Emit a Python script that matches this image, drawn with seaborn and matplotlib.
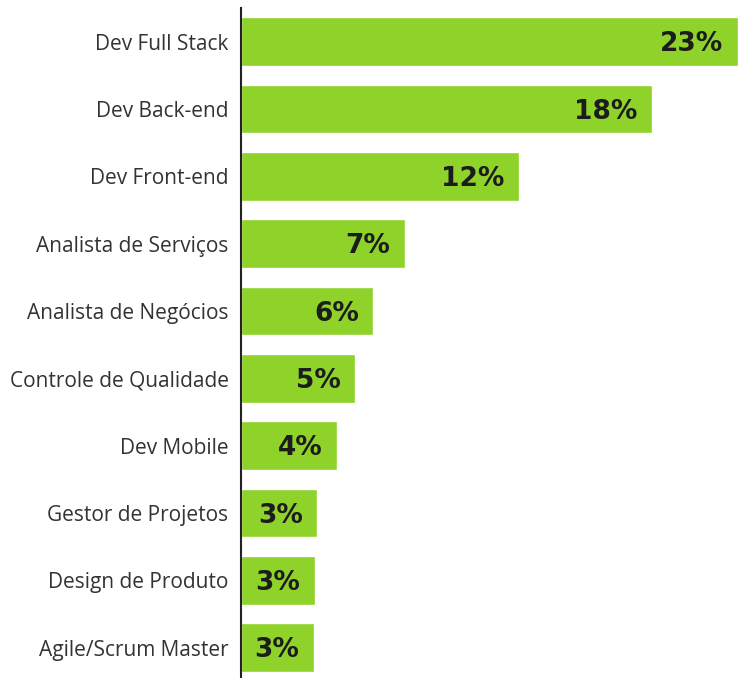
import matplotlib
matplotlib.use("Agg")
import matplotlib.pyplot as plt
import seaborn as sns
import pandas as pd

# dados
cargos = ["Dev Full Stack", "Dev Back-end", "Dev Front-end", "Analista de Serviços",
          "Analista de Negócios", "Controle de Qualidade", "Dev Mobile",
          "Gestor de Projetos", "Design de Produto", "Agile/Scrum Master"]
comprimento = [22.15, 18.3, 12.4, 7.3, 5.9, 5.1, 4.3, 3.4, 3.3, 3.25]  # comprimento visual das barras
rotulos = ["23%", "18%", "12%", "7%", "6%", "5%", "4%", "3%", "3%", "3%"]

df = pd.DataFrame({"cargo": cargos, "valor": comprimento})

sns.set_style("white")
plt.rcParams["font.family"] = ["Open Sans", "DejaVu Sans"]

fig = plt.figure(figsize=(7.38, 6.78), dpi=100)
ax = fig.add_axes([241 / 738, 0, 1 - 241 / 738, 670 / 678])

sns.barplot(data=df, x="valor", y="cargo", color="#8fd22a", saturation=1,
            width=0.72, ax=ax)

for i, (v, r) in enumerate(zip(comprimento, rotulos)):
    ax.text(v - 0.65, i + 0.04, r, ha="right", va="center", fontsize=19,
            fontweight="bold", color="#1c1c1c", family="DejaVu Sans")

ax.set_xlim(0, 22.15)
ax.set_ylim(9.45, -0.5)
ax.set_xlabel("")
ax.set_ylabel("")
ax.set_xticks([])
ax.tick_params(axis="y", length=0, pad=9, labelsize=15, labelcolor="#333333")
for s in ["top", "right", "bottom"]:
    ax.spines[s].set_visible(False)
ax.spines["left"].set_color("#222222")
ax.spines["left"].set_linewidth(1.5)

fig.savefig("out.png", dpi=100)
